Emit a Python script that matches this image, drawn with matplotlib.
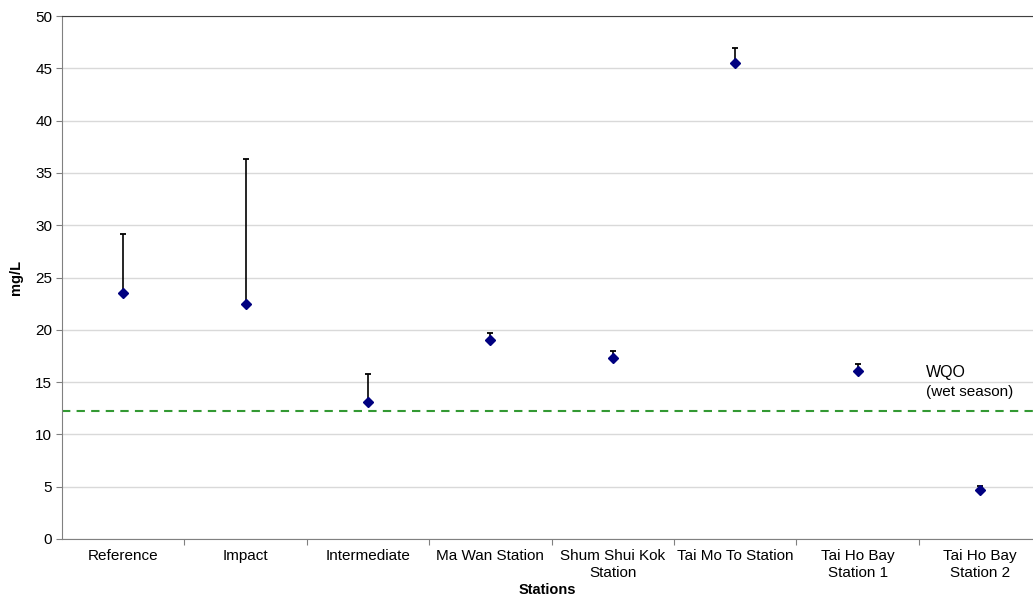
import numpy as np
import matplotlib.pyplot as plt

plt.rcParams['font.family'] = ['Liberation Sans', 'DejaVu Sans']

stations = ['Reference', 'Impact', 'Intermediate', 'Ma Wan Station',
            'Shum Shui Kok\nStation', 'Tai Mo To Station',
            'Tai Ho Bay\nStation 1', 'Tai Ho Bay\nStation 2']
means = [23.5, 22.5, 13.1, 19.0, 17.3, 45.5, 16.1, 4.7]
upper = [29.2, 36.3, 15.8, 19.7, 18.0, 46.9, 16.7, 5.1]
wqo = 12.2

fig = plt.figure(figsize=(10.33, 6.04), dpi=100)
ax = fig.add_axes([62/1033, 65/604, 1 - 62/1033, 523/604])

x = np.arange(1, len(stations) + 1)
err = np.array(upper) - np.array(means)
ax.errorbar(x, means, yerr=[np.zeros_like(err), err], fmt='none',
            ecolor='black', elinewidth=1.2, capsize=2.3, capthick=1.3, zorder=3)
ax.plot(x, means, linestyle='none', marker='D', markersize=5.5,
        color='#000080', zorder=4)

ax.axhline(wqo, color='#339933', linestyle=(0, (4, 3)), linewidth=1.5, zorder=2)
ax.text(7.56, 15.2, 'WQO', fontsize=11.5, ha='left', va='bottom')
ax.text(7.56, 13.4, '(wet season)', fontsize=11, ha='left', va='bottom')

ax.set_ylim(0, 50)
ax.set_yticks(np.arange(0, 51, 5))
ax.set_xlim(0.5, 0.5 + (1033 - 62) / 122.4)
ax.set_xticks(np.arange(1.5, 8.5, 1))
ax.set_xticklabels([])
ax.set_xticks(x, minor=True)
ax.set_xticklabels(stations, minor=True, fontsize=11, linespacing=1.3)
ax.tick_params(axis='x', which='minor', length=0, pad=7)
ax.tick_params(axis='x', which='major', length=4, color='#808080')
ax.tick_params(axis='y', length=4, color='#808080', labelsize=11, pad=3)

ax.yaxis.grid(True, color='#d9d9d9', linewidth=1)
ax.set_axisbelow(True)
for s in ['left', 'bottom']:
    ax.spines[s].set_color('#808080')
ax.spines['top'].set_color('#404040')
ax.spines['right'].set_visible(False)

ax.set_ylabel('mg/L', fontsize=10.5, fontweight='bold', labelpad=9)
ax.set_xlabel('Stations', fontsize=10.5, fontweight='bold', labelpad=2)

fig.savefig('out.png', dpi=100)
